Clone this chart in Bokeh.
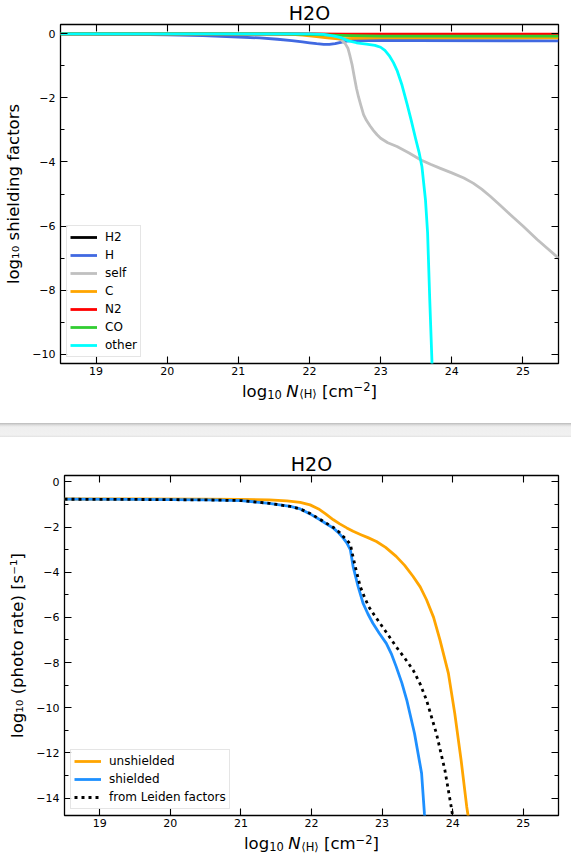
from bokeh.plotting import figure
from bokeh.models import Range1d, LinearAxis, FixedTicker, Div, CustomJSTickFormatter
from bokeh.core.properties import value
from bokeh.layouts import column
from bokeh.embed import file_html
from bokeh.resources import INLINE

FONT = "DejaVu Sans"

# ---------------- data ----------------
X_TICKS = [19, 20, 21, 22, 23, 24, 25]
Y_TICKS_TOP = [0, -2, -4, -6, -8, -10]
Y_MINOR_TOP = [-1, -3, -5, -7, -9]
Y_TICKS_BOT = [0, -2, -4, -6, -8, -10, -12, -14]
Y_MINOR_BOT = [-1, -3, -5, -7, -9, -11, -13]

TITLE = "H2O"

# top panel: log10 shielding factors vs log10 N(H)
h2_x = [18.5, 21.5, 22.0, 22.5, 23.0, 25.5]
h2_y = [0.0, 0.0, -0.01, -0.03, -0.05, -0.05]

h_x = [18.5, 19.0, 19.5, 20.0, 20.5, 21.0, 21.3, 21.55, 21.75, 21.9, 22.0, 22.1, 22.2, 22.28, 22.36,
       22.44, 22.52, 22.6, 22.8, 23.5, 25.5]
h_y = [0.0, -0.01, -0.02, -0.03, -0.06, -0.1, -0.13, -0.17, -0.21, -0.25, -0.28, -0.31, -0.33, -0.33,
       -0.31, -0.27, -0.23, -0.21, -0.21, -0.21, -0.22]

self_x = [18.5, 21.0, 22.0, 22.2, 22.35, 22.45, 22.5, 22.54, 22.57, 22.6, 22.63, 22.66, 22.69, 22.72,
          22.76, 22.8, 22.85, 22.9, 22.95, 23.0, 23.1, 23.23, 23.4, 23.56, 23.7, 23.84, 24.0, 24.17,
          24.3, 24.42, 24.54, 24.68, 24.82, 25.0, 25.2, 25.5]
self_y = [0.0, 0.0, -0.01, -0.03, -0.1, -0.2, -0.3, -0.45, -0.7, -0.98, -1.35, -1.7, -1.98, -2.22,
          -2.52, -2.7, -2.87, -3.02, -3.15, -3.26, -3.4, -3.52, -3.72, -3.93, -4.07, -4.2, -4.34, -4.5,
          -4.66, -4.85, -5.07, -5.35, -5.64, -6.0, -6.42, -7.0]

c_x = [18.5, 21.0, 21.7, 21.9, 22.1, 22.25, 22.4, 22.6, 23.0, 25.5]
c_y = [0.0, 0.0, -0.01, -0.04, -0.09, -0.13, -0.16, -0.14, -0.13, -0.13]

n2_x = [18.5, 21.5, 22.0, 22.5, 23.0, 25.5]
n2_y = [0.0, 0.0, -0.005, -0.01, -0.01, -0.01]

co_x = [18.5, 21.6, 22.0, 22.3, 22.6, 23.0, 25.5]
co_y = [0.0, 0.0, -0.02, -0.04, -0.06, -0.07, -0.07]

oth_x = [18.5, 21.0, 22.0, 22.2, 22.35, 22.45, 22.55, 22.66, 22.8, 22.92, 23.0, 23.06, 23.12, 23.18,
         23.23, 23.3, 23.37, 23.43, 23.49, 23.54, 23.58, 23.63, 23.66, 23.69, 23.72, 23.73]
oth_y = [0.0, 0.0, 0.0, -0.02, -0.07, -0.13, -0.22, -0.28, -0.32, -0.36, -0.42, -0.52, -0.68, -0.9,
         -1.14, -1.6, -2.18, -2.7, -3.26, -3.7, -4.14, -5.18, -6.21, -8.28, -10.15, -11.0]

# bottom panel: log10 photo rate
uns_x = [18.5, 19.5, 20.5, 21.0, 21.4, 21.65, 21.84, 21.98, 22.1, 22.2, 22.31, 22.4, 22.5, 22.59, 22.7,
         22.8, 22.92, 23.05, 23.2, 23.32, 23.44, 23.54, 23.63, 23.73, 23.82, 23.94, 24.03, 24.12, 24.2, 24.23]
uns_y = [-0.76, -0.76, -0.77, -0.78, -0.8, -0.84, -0.91, -1.02, -1.2, -1.42, -1.68, -1.86, -2.04, -2.19,
         -2.34, -2.47, -2.64, -2.9, -3.3, -3.7, -4.19, -4.65, -5.22, -6.0, -7.0, -8.48, -10.25, -12.32,
         -14.39, -15.0]

shi_x = [18.5, 19.5, 20.5, 21.0, 21.4, 21.7, 21.84, 21.98, 22.12, 22.22, 22.31, 22.39, 22.45, 22.5,
         22.55, 22.59, 22.63, 22.66, 22.73, 22.8, 22.87, 22.96, 23.06, 23.13, 23.2, 23.28, 23.35, 23.46,
         23.56, 23.6, 23.61]
shi_y = [-0.77, -0.78, -0.8, -0.83, -0.95, -1.09, -1.2, -1.42, -1.68, -1.88, -2.05, -2.28, -2.49, -2.7,
         -3.0, -3.75, -4.25, -4.63, -5.37, -5.85, -6.26, -6.7, -7.15, -7.6, -8.18, -8.9, -9.66, -11.14,
         -12.9, -14.68, -15.0]

lei_x = [18.5, 19.5, 20.5, 21.0, 21.4, 21.7, 21.84, 21.98, 22.12, 22.22, 22.31, 22.39, 22.45, 22.5,
         22.55, 22.58, 22.62, 22.69, 22.75, 22.81, 22.89, 22.97, 23.08, 23.2, 23.32, 23.44, 23.54, 23.63,
         23.7, 23.77, 23.89, 23.98, 24.01]
lei_y = [-0.77, -0.78, -0.8, -0.83, -0.95, -1.09, -1.2, -1.4, -1.66, -1.85, -2.02, -2.22, -2.42, -2.58,
         -2.75, -3.2, -3.75, -4.63, -5.1, -5.52, -5.9, -6.26, -6.75, -7.3, -7.8, -8.33, -8.95, -9.66,
         -10.4, -11.14, -12.76, -14.39, -15.0]

TOP_SERIES = [
    ("H2", h2_x, h2_y, "black"),
    ("H", h_x, h_y, "royalblue"),
    ("self", self_x, self_y, "silver"),
    ("C", c_x, c_y, "orange"),
    ("N2", n2_x, n2_y, "red"),
    ("CO", co_x, co_y, "limegreen"),
    ("other", oth_x, oth_y, "cyan"),
]

# ---------------- style helpers ----------------
W = 571
BR = 13
LW = 2.8
TEXT_LIFT = 6.0   # compensation for baseline placement of text glyphs


def no_align(p):
    try:
        p.frame_align = False
    except Exception:
        pass


def minus_formatter():
    return CustomJSTickFormatter(code="return (tick < 0 ? '\\u2212' : '') + Math.abs(tick).toString();")


def style_axis(ax, labels=True):
    ax.axis_line_color = None
    ax.major_tick_in = 7
    ax.major_tick_out = 0
    ax.minor_tick_in = 4
    ax.minor_tick_out = 0
    ax.major_tick_line_color = "black"
    ax.major_tick_line_width = 1.1
    ax.minor_tick_line_color = "black"
    ax.minor_tick_line_width = 1.0
    if labels:
        ax.major_label_text_font = FONT
        ax.major_label_text_font_size = "11px"
        ax.major_label_text_color = "black"
        ax.formatter = minus_formatter()
    else:
        ax.formatter = CustomJSTickFormatter(code="return '';")
        ax.major_label_text_font_size = "0px"
        ax.major_label_standoff = 0
        ax.axis_label = None


def make_fig(height, bl, yr, yticks, yminor, ylabel):
    p = figure(width=W, height=height, x_range=Range1d(18.5, 25.5), y_range=Range1d(*yr),
               output_backend="svg", toolbar_location=None,
               min_border_left=bl, min_border_right=BR, min_border_top=1, min_border_bottom=17)
    no_align(p)
    p.title_location = None
    p.grid.visible = False
    p.outline_line_color = "black"
    p.outline_line_width = 1.3
    p.background_fill_color = "white"
    p.border_fill_color = "white"

    xb = p.xaxis[0]
    xb.ticker = FixedTicker(ticks=X_TICKS, minor_ticks=[])
    style_axis(xb)
    xb.major_label_standoff = 3

    yl = p.yaxis[0]
    yl.ticker = FixedTicker(ticks=yticks, minor_ticks=yminor)
    style_axis(yl)
    yl.major_label_standoff = 5
    yl.axis_label = ylabel
    yl.axis_label_text_font = FONT
    yl.axis_label_text_font_size = "16.5px"
    yl.axis_label_text_font_style = "normal"
    yl.axis_label_text_color = "black"
    yl.axis_label_standoff = 6

    top = LinearAxis(ticker=FixedTicker(ticks=X_TICKS, minor_ticks=[]))
    style_axis(top, labels=False)
    p.add_layout(top, "above")
    right = LinearAxis(ticker=FixedTicker(ticks=yticks, minor_ticks=yminor))
    style_axis(right, labels=False)
    p.add_layout(right, "right")
    return p


def strip(height):
    s = figure(width=W, height=height, x_range=Range1d(0, W), y_range=Range1d(0, height),
               output_backend="svg", toolbar_location=None, min_border=0,
               min_border_left=0, min_border_right=0, min_border_top=0, min_border_bottom=0,
               x_axis_type=None, y_axis_type=None)
    no_align(s)
    s.title_location = None
    s.outline_line_color = None
    s.grid.visible = False
    s.background_fill_color = "white"
    s.border_fill_color = "white"
    return s


def put_text(s, x, y, txt, size, style="normal", align="left"):
    s.text(x=[x], y=[y + TEXT_LIFT], text=[txt], text_font=value(FONT), text_font_size=value(f"{size}px"),
           text_font_style=value(style), text_color="black", text_align=value(align),
           text_baseline=value("alphabetic"))


def title_strip(height, bl, baseline):
    s = strip(height)
    cx = bl + (W - bl - BR) / 2.0
    put_text(s, cx, baseline, TITLE, 19, align="center")
    return s


def xlabel_strip(height, bl, baseline):
    s = strip(height)
    M, S = 16.5, 11.5
    # (text, font size, style, advance, vertical shift, left gap)
    pieces = [
        ("log", M, "normal", 1.525 * M, 0.0, 0.0),
        ("10", S, "normal", 1.272 * S, -3.0, 0.0),
        ("N", M, "italic", 0.748 * M + 0.5, 0.0, 4.5),
        ("\u27e8H\u27e9", S, "normal", 1.532 * S, -3.0, 0.0),
        ("[cm", M, "normal", 1.914 * M, 0.0, 0.318 * M),
        ("\u22122", S, "normal", 1.474 * S, 4.5, 0.0),
        ("]", M, "normal", 0.39 * M, 0.0, 0.0),
    ]
    total = sum(pc[3] + pc[5] for pc in pieces)
    x0 = bl + ((W - bl - BR) - total) / 2.0
    for txt, fs, style, w, dy, gap in pieces:
        x0 += gap
        put_text(s, x0, baseline + dy, txt, fs, style)
        x0 += w
    return s


def style_legend(p):
    lg = p.legend[0]
    lg.location = "bottom_left"
    lg.margin = 6
    lg.padding = 3
    lg.spacing = 2
    lg.label_height = 16
    lg.glyph_height = 16
    lg.glyph_width = 27
    lg.label_standoff = 8
    lg.label_text_font = FONT
    lg.label_text_font_size = "12px"
    lg.label_text_color = "black"
    lg.border_line_color = "#cccccc"
    lg.border_line_width = 1
    lg.background_fill_alpha = 0.8


# ---------------- top panel ----------------
t1 = title_strip(23, 60, 4.7)
p1 = make_fig(357, 60, (-10.29, 0.29), Y_TICKS_TOP, Y_MINOR_TOP, "log\u2081\u2080 shielding factors")
for name, xs, ys, col in TOP_SERIES:
    p1.line(xs, ys, line_color=col, line_width=LW, line_join="round", legend_label=name)
style_legend(p1)
x1 = xlabel_strip(43, 60, 26.3)

# ---------------- separator ----------------
sep = Div(text="", width=W, height=14, margin=0,
          styles={"background": "linear-gradient(#b9b9b9 0px, #dcdcdc 2px, #efefef 4px, #f1f1f1 12px, #e2e2e2 14px)"})

# ---------------- bottom panel ----------------
t2 = title_strip(37, 64, 4.7)
p2 = make_fig(358, 64, (-14.77, 0.28), Y_TICKS_BOT, Y_MINOR_BOT, "log\u2081\u2080 (photo rate) [s\u207b\u00b9]")
p2.line(uns_x, uns_y, line_color="orange", line_width=LW, line_join="round", legend_label="unshielded")
p2.line(shi_x, shi_y, line_color="dodgerblue", line_width=LW, line_join="round", legend_label="shielded")
p2.line(lei_x, lei_y, line_color="black", line_width=LW, line_dash="3 4", line_cap="butt",
        legend_label="from Leiden factors")
style_legend(p2)
x2 = xlabel_strip(27, 64, 9.7)

layout = column(t1, p1, x1, sep, t2, p2, x2, spacing=0)
open("out.html", "w").write(file_html(layout, INLINE))
